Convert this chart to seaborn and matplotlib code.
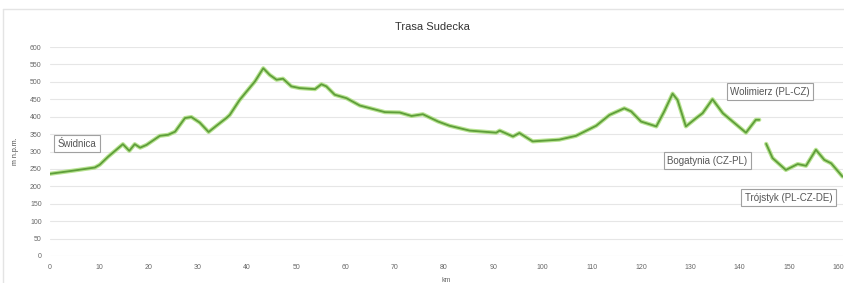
"""
Elevation profile of the Trasa Sudecka route.

Two separate stretches (the route goes through Czechia between
Wolimierz and Bogatynia), drawn as seaborn line plots.
"""

import numpy as np
import pandas as pd
import matplotlib.pyplot as plt
from matplotlib.lines import Line2D
import seaborn as sns

# stretch 1: Świdnica -> Wolimierz (PL-CZ)
km_a = [0, 4.7, 9.1, 10.1, 11.8, 14.8, 16.1, 17.2, 18.3, 19.6, 22.3, 24.0,
        25.4, 27.4, 28.7, 30.4, 32.2, 33.8, 35.8, 36.5, 38.5, 39.9, 41.6,
        43.3, 44.6, 46.0, 47.3, 49.0, 50.7, 53.8, 55.1, 56.1, 57.8, 60.2,
        62.9, 65.6, 68.0, 71.0, 73.4, 75.7, 78.8, 81.1, 85.2, 90.6, 91.3,
        94.0, 95.3, 98.0, 103.4, 106.8, 110.9, 113.6, 116.6, 118.0, 120.0,
        123.1, 124.7, 126.4, 127.4, 129.1, 131.2, 132.5, 134.5, 136.6,
        138.6, 141.3, 143.3, 144.0]
elev_a = [236, 245, 254, 262, 285, 321, 302, 321, 311, 319, 345, 348,
          357, 396, 399, 383, 356, 374, 396, 405, 448, 472, 501,
          539, 520, 506, 509, 487, 482, 479, 493, 487, 463, 453,
          432, 422, 413, 412, 402, 407, 386, 374, 360, 354, 360,
          343, 353, 329, 334, 345, 374, 405, 424, 415, 386,
          372, 415, 466, 448, 372, 396, 410, 450, 410,
          386, 354, 391, 391]

# stretch 2: Bogatynia (CZ-PL) -> Trójstyk (PL-CZ-DE)
km_b = [145.4, 146.7, 149.4, 151.8, 153.5, 155.5, 157.2, 158.6, 160.9]
elev_b = [322, 281, 247, 264, 259, 305, 276, 266, 228]

x_ticks = list(range(0, 161, 10))
y_ticks = list(range(0, 601, 50))

title = "Trasa Sudecka"
x_title = "km"
y_title = "m n.p.m."

LINE_CORE = "#5e9e3a"
LINE_GLOW = "#a6dc76"


def draw_stretch(ax, km, elev):
    df = pd.DataFrame({"km": km, "elev": elev})
    sns.lineplot(data=df, x="km", y="elev", ax=ax, color=LINE_GLOW,
                 linewidth=3.0, alpha=0.8, sort=False)
    sns.lineplot(data=df, x="km", y="elev", ax=ax, color=LINE_CORE,
                 linewidth=1.3, sort=False)


def label(ax, text, xy, offset):
    ax.annotate(text, xy=xy, xytext=offset, textcoords="offset pixels",
                ha="center", va="center", fontsize=7, color="#555555",
                bbox=dict(boxstyle="square,pad=0.35", fc="white",
                          ec="#a0a0a0", lw=0.8))


def main():
    sns.set_theme(style="white")
    plt.rcParams["font.family"] = ["Liberation Sans", "DejaVu Sans"]

    fig = plt.figure(figsize=(8.44, 2.83), dpi=100)
    ax = fig.add_axes([50 / 844, 27 / 283, 793 / 844, 209 / 283])

    draw_stretch(ax, km_a, elev_a)
    draw_stretch(ax, km_b, elev_b)

    ax.set_xlim(0, 161)
    ax.set_ylim(0, 600)
    ax.set_xticks(x_ticks)
    ax.set_yticks(y_ticks)
    ax.tick_params(labelsize=5, colors="#666666", length=0, pad=6)
    ax.grid(axis="y", color="#e6e6e6", linewidth=0.8)
    for s in ax.spines.values():
        s.set_visible(False)
    ax.set_xlabel(x_title, fontsize=5, color="#666666", labelpad=4)
    ax.set_ylabel(y_title, fontsize=5, color="#444444", labelpad=8)

    fig.text(432 / 844, 1 - 27 / 283, title, ha="center", va="center",
             fontsize=8, color="#333333")

    label(ax, "Świdnica", (km_a[0], elev_a[0]), (27, 30))
    label(ax, "Wolimierz (PL-CZ)", (km_a[-1], elev_a[-1]), (11, 28))
    label(ax, "Bogatynia (CZ-PL)", (km_b[0], elev_b[0]), (-59, -17))
    label(ax, "Trójstyk (PL-CZ-DE)", (km_b[-1], elev_b[-1]), (-54, -21))

    # faint card border at top and left
    fig.add_artist(Line2D([3 / 844, 1], [1 - 9 / 283] * 2,
                          color="#e4e4e4", lw=1))
    fig.add_artist(Line2D([3 / 844] * 2, [0, 1 - 9 / 283],
                          color="#e4e4e4", lw=1))

    fig.savefig("out.png", dpi=100)


if __name__ == "__main__":
    main()
